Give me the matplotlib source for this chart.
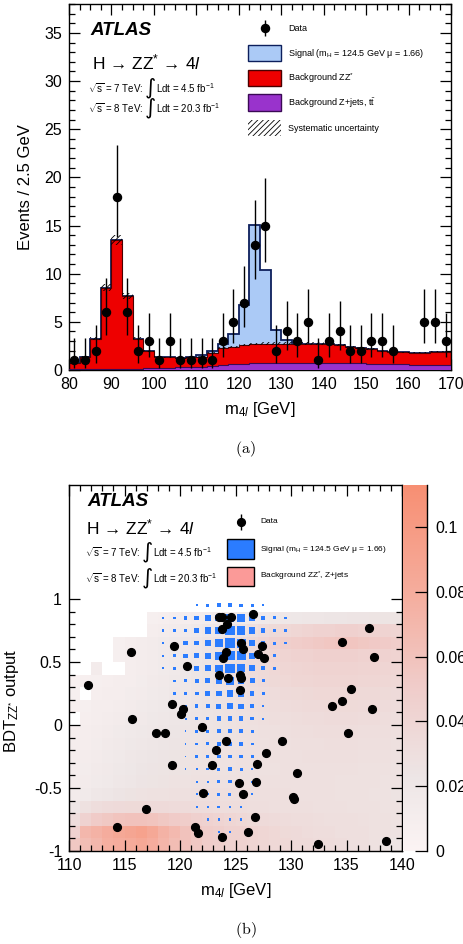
import numpy as np
import matplotlib
matplotlib.use("Agg")
import matplotlib.pyplot as plt
from matplotlib.patches import Rectangle
from matplotlib.colors import LinearSegmentedColormap
from matplotlib.ticker import MultipleLocator, FixedLocator

plt.rcParams['font.family'] = ['Liberation Sans', 'DejaVu Sans']
plt.rcParams['mathtext.fontset'] = 'custom'
plt.rcParams['mathtext.rm'] = 'Liberation Sans'
plt.rcParams['mathtext.it'] = 'Liberation Sans:italic'
plt.rcParams['mathtext.bf'] = 'Liberation Sans:bold'
plt.rcParams['axes.unicode_minus'] = False
plt.rcParams['hatch.linewidth'] = 0.6

# ---- (a) m4l spectrum, 2.5 GeV bins from 80 to 170 GeV ----
bin_lo, bin_hi, bin_w = 80.0, 170.0, 2.5

zz_bkg = [0.6, 1.3, 3.15, 8.4, 13.35, 7.5, 3.1, 1.75, 1.2, 1.05, 0.9, 1.0,
          1.0, 1.4, 1.75, 1.8, 1.95, 2.0, 2.0, 2.0, 2.0, 2.0, 2.0, 2.0,
          1.95, 1.85, 1.7, 1.55, 1.5, 1.35, 1.3, 1.23, 1.25, 1.25, 1.4, 1.4]
zjets_bkg = [0.1, 0.1, 0.1, 0.15, 0.15, 0.15, 0.15, 0.2, 0.2, 0.25, 0.3, 0.3,
             0.35, 0.4, 0.5, 0.6, 0.65, 0.7, 0.75, 0.75, 0.75, 0.75, 0.75, 0.75,
             0.75, 0.7, 0.7, 0.7, 0.65, 0.65, 0.6, 0.6, 0.55, 0.55, 0.5, 0.5]
higgs_sig = [0, 0, 0, 0, 0, 0, 0, 0, 0, 0, 0, 0,
             0.25, 0.2, 0.4, 1.3, 4.15, 12.4, 7.6, 1.45, 0.35, 0.1, 0, 0,
             0, 0, 0, 0, 0, 0, 0, 0, 0, 0, 0, 0]
data_counts = [1, 1, 2, 6, 18, 6, 2, 3, 1, 3, 1, 1,
               1, 1, 3, 5, 7, 13, 15, 2, 4, 3, 5, 1,
               3, 4, 2, 2, 3, 3, 2, 0, 0, 5, 5, 3]
syst_frac = 0.04

# ---- (b) BDT output vs m4l ----
# background density, 1 GeV x 0.1 cells, rows from BDT = -1 upwards
bkg_density = [
    [55, 65, 70, 78, 80, 82, 85, 80, 72, 65, 60, 55, 50, 48, 45, 45, 42, 40, 38, 38, 35, 35, 33, 33, 32, 30, 30, 28, 25, 25],
    [45, 70, 75, 80, 85, 88, 92, 85, 75, 68, 60, 55, 50, 48, 45, 45, 42, 40, 38, 36, 35, 33, 32, 32, 30, 30, 30, 28, 28, 27],
    [32, 45, 52, 55, 58, 60, 60, 58, 55, 52, 50, 46, 44, 42, 40, 38, 36, 35, 34, 33, 32, 32, 31, 30, 30, 30, 29, 28, 28, 27],
    [22, 28, 32, 34, 35, 36, 36, 35, 35, 34, 34, 33, 33, 32, 32, 32, 31, 31, 30, 30, 30, 30, 29, 29, 29, 28, 28, 28, 27, 27],
    [14, 16, 20, 22, 24, 26, 27, 28, 28, 29, 29, 30, 30, 30, 30, 30, 30, 30, 30, 30, 29, 29, 29, 29, 28, 28, 28, 27, 27, 26],
    [12, 14, 16, 18, 20, 22, 24, 25, 26, 27, 27, 28, 28, 28, 28, 28, 28, 29, 29, 29, 29, 29, 29, 29, 28, 28, 28, 28, 27, 27],
    [11, 13, 15, 17, 19, 21, 23, 24, 25, 26, 26, 27, 27, 27, 27, 28, 28, 28, 28, 29, 29, 29, 29, 29, 29, 29, 28, 28, 28, 27],
    [10, 12, 14, 16, 18, 20, 22, 23, 24, 25, 26, 26, 27, 27, 27, 28, 28, 28, 29, 29, 29, 30, 30, 30, 30, 30, 29, 29, 29, 28],
    [10, 11, 13, 15, 17, 19, 20, 22, 23, 24, 25, 25, 26, 26, 27, 27, 28, 28, 29, 29, 30, 30, 30, 31, 31, 31, 30, 30, 30, 29],
    [9, 10, 12, 14, 16, 18, 19, 20, 22, 23, 24, 25, 25, 26, 27, 28, 28, 29, 29, 30, 31, 31, 32, 32, 32, 32, 31, 31, 31, 30],
    [0, 9, 11, 12, 14, 16, 17, 19, 20, 22, 23, 24, 25, 26, 27, 28, 29, 30, 31, 31, 32, 33, 33, 34, 34, 34, 33, 33, 32, 31],
    [7, 8, 10, 11, 12, 14, 16, 18, 19, 21, 22, 23, 25, 26, 27, 29, 30, 31, 32, 33, 34, 35, 35, 36, 36, 36, 35, 35, 34, 33],
    [8, 0, 9, 10, 11, 13, 14, 16, 18, 20, 21, 23, 24, 26, 27, 29, 31, 32, 33, 35, 36, 37, 38, 38, 38, 38, 37, 37, 36, 35],
    [6, 7, 8, 9, 10, 11, 13, 15, 17, 19, 21, 23, 25, 27, 29, 31, 33, 35, 37, 38, 40, 40, 41, 41, 41, 41, 40, 40, 39, 38],
    [0, 0, 14, 0, 0, 10, 12, 14, 16, 18, 21, 23, 25, 27, 30, 32, 34, 36, 38, 40, 41, 42, 43, 43, 43, 43, 42, 42, 41, 40],
    [0, 0, 0, 0, 8, 10, 12, 14, 16, 18, 20, 22, 24, 26, 28, 31, 34, 37, 40, 42, 44, 45, 46, 46, 46, 46, 45, 45, 44, 43],
    [0, 0, 0, 0, 8, 10, 12, 14, 16, 18, 20, 22, 24, 27, 30, 33, 37, 41, 45, 48, 50, 52, 54, 56, 57, 57, 55, 53, 52, 50],
    [0, 0, 0, 0, 0, 0, 0, 10, 12, 14, 16, 18, 20, 22, 24, 27, 30, 33, 36, 38, 40, 42, 44, 45, 46, 46, 45, 44, 43, 42],
    [0, 0, 0, 0, 0, 0, 0, 8, 9, 10, 11, 12, 13, 14, 15, 16, 17, 18, 19, 20, 21, 22, 22, 23, 23, 24, 24, 25, 25, 25],
    [0] * 30,
]
density_scale = 1e-3

# signal yield per cell (arbitrary units), columns 118.5 ... 129.5 GeV
sig_mass = [118.5, 119.5, 120.5, 121.5, 122.5, 123.5, 124.5, 125.5, 126.5, 127.5, 128.5, 129.5]
sig_bdt = [0.95, 0.85, 0.75, 0.65, 0.55, 0.45, 0.35, 0.25, 0.15, 0.05,
           -0.05, -0.15, -0.25, -0.35, -0.45, -0.55, -0.65, -0.75, -0.85]
sig_yield = [
    [0, 0, 0, 6, 8, 12, 12, 10, 9, 6, 0, 0],
    [6, 8, 10, 13, 17, 20, 22, 22, 18, 13, 9, 7],
    [6, 8, 11, 14, 18, 22, 27, 25, 18, 13, 9, 7],
    [6, 9, 12, 14, 18, 24, 29, 26, 18, 13, 9, 7],
    [6, 9, 12, 14, 18, 24, 28, 26, 18, 12, 8, 0],
    [5, 8, 11, 14, 17, 22, 27, 23, 17, 11, 8, 0],
    [0, 7, 9, 12, 15, 19, 22, 20, 15, 9, 0, 0],
    [0, 7, 9, 11, 14, 17, 19, 18, 13, 8, 0, 0],
    [0, 6, 8, 10, 12, 15, 17, 15, 11, 7, 0, 0],
    [0, 0, 6, 8, 10, 13, 14, 13, 10, 6, 0, 0],
    [0, 0, 5, 7, 9, 11, 12, 11, 8, 0, 0, 0],
    [0, 0, 5, 7, 9, 10, 11, 10, 8, 0, 0, 0],
    [0, 0, 5, 7, 8, 10, 11, 10, 8, 0, 0, 0],
    [0, 0, 5, 6, 8, 9, 10, 9, 7, 0, 0, 0],
    [0, 0, 0, 6, 7, 9, 10, 9, 7, 0, 0, 0],
    [0, 0, 0, 6, 7, 8, 9, 8, 6, 0, 0, 0],
    [0, 0, 0, 5, 6, 8, 8, 7, 0, 0, 0, 0],
    [0, 0, 0, 0, 6, 7, 7, 7, 0, 0, 0, 0],
    [0, 0, 0, 0, 0, 6, 6, 0, 0, 0, 0, 0],
]

cand_mass = [126.6, 123.5, 123.8, 124.6, 124.2, 123.75, 137.05, 134.6, 119.5, 115.6,
             125.5, 125.7, 127.4, 127.05, 127.6, 124.1, 123.9, 137.5, 120.6, 123.5,
             124.35, 125.4, 125.5, 125.45, 111.7, 135.4, 134.6, 133.7, 137.3, 119.3,
             120.25, 120.1, 115.65, 121.95, 117.85, 118.65, 135.1, 124.15, 129.2, 123.25,
             127.75, 119.25, 122.85, 126.96, 130.57, 125.35, 126.85, 122.1, 125.7, 130.15,
             130.3, 116.95, 126.8, 114.3, 121.35, 121.6, 126.1, 123.75, 132.46, 138.56]
cand_bdt = [0.885, 0.855, 0.86, 0.86, 0.80, 0.76, 0.77, 0.66, 0.63, 0.58,
            0.65, 0.60, 0.63, 0.56, 0.53, 0.58, 0.53, 0.54, 0.47, 0.40,
            0.37, 0.40, 0.375, 0.28, 0.32, 0.285, 0.19, 0.15, 0.125, 0.17,
            0.13, 0.09, 0.045, -0.013, -0.066, -0.06, -0.06, -0.127, -0.125, -0.20,
            -0.225, -0.32, -0.32, -0.31, -0.38, -0.46, -0.45, -0.54, -0.55, -0.574,
            -0.59, -0.67, -0.73, -0.81, -0.81, -0.855, -0.85, -0.886, -0.947, -0.92]

RED = '#ee0000'
PURPLE = '#9933cc'
LIGHT_BLUE = '#abcaf6'
SIG_BLUE = '#2b7cff'
BKG_PINK = '#fb9a98'
DECAY = r'H → ZZ$^{*}$ → 4$l$'


def poisson_errors(n):
    """Approximate 68% Garwood interval (Wilson-Hilferty)."""
    n = np.asarray(n, dtype=float)
    lo = n * (1 - 1 / (9 * n) - 1 / (3 * np.sqrt(n))) ** 3
    up = (n + 1) * (1 - 1 / (9 * (n + 1)) + 1 / (3 * np.sqrt(n + 1))) ** 3
    return n - lo, up - n


def style_axes(ax, major_len=8, minor_len=4):
    ax.tick_params(which='both', direction='in', top=True, right=True,
                   labelsize=11.5, width=0.9)
    ax.tick_params(which='major', length=major_len, pad=5)
    ax.tick_params(which='minor', length=minor_len)
    for sp in ax.spines.values():
        sp.set_linewidth(1.0)


def lumi_line(ax, x, y, energy, lumi, size):
    t1 = ax.text(x, y, r'$\sqrt{\mathrm{s}}$ = %s TeV: ' % energy,
                 transform=ax.transAxes, fontsize=size, va='center', zorder=10)
    t2 = ax.annotate('∫', xy=(1, 0.5), xycoords=t1, fontsize=size * 2.2,
                     va='center', ha='left', family=['DejaVu Sans'], zorder=10)
    ax.annotate(r'Ldt = %s fb$^{-1}$' % lumi, xy=(1, 0.5), xycoords=(t2, t1),
                fontsize=size, va='center', ha='left', zorder=10)


fig = plt.figure(figsize=(4.63, 9.44), dpi=100)
W, H = 463.0, 944.0
ax1 = fig.add_axes([69 / W, 1 - 370 / H, 382 / W, 366 / H])
ax2 = fig.add_axes([69 / W, 1 - 851 / H, 333 / W, 366 / H])
cax = fig.add_axes([403 / W, 1 - 851 / H, 24 / W, 366 / H])

# ---------------- (a) ----------------
edges = np.arange(bin_lo, bin_hi + bin_w / 2, bin_w)
centers = edges[:-1] + bin_w / 2
zz = np.array(zz_bkg)
zj = np.array(zjets_bkg)
sig = np.array(higgs_sig)
bkg = zz + zj
total = bkg + sig

ax1.stairs(total, edges, fill=True, facecolor=LIGHT_BLUE, edgecolor='#0d1f5c',
           linewidth=1.3, zorder=1)
ax1.stairs(bkg, edges, fill=True, facecolor=RED, edgecolor='#4a0000',
           linewidth=0.8, zorder=2)
ax1.stairs(bkg * (1 + syst_frac), edges, baseline=bkg * (1 - syst_frac), fill=True,
           facecolor='none', edgecolor='black', hatch='//////', linewidth=0, zorder=3)
ax1.stairs(zj, edges, fill=True, facecolor=PURPLE, edgecolor='#3a0a55',
           linewidth=0.8, zorder=4)

counts = np.array(data_counts)
has = counts > 0
err_lo, err_hi = poisson_errors(counts[has])
ax1.errorbar(centers[has], counts[has], yerr=[err_lo, err_hi], fmt='o', color='black',
             ms=5.8, elinewidth=1.0, capsize=0, zorder=6)

ax1.set_xlim(bin_lo, bin_hi)
ax1.set_ylim(0, 38)
ax1.xaxis.set_major_locator(MultipleLocator(10))
ax1.xaxis.set_minor_locator(MultipleLocator(2.5))
ax1.yaxis.set_major_locator(MultipleLocator(5))
ax1.yaxis.set_minor_locator(MultipleLocator(1))
style_axes(ax1)
ax1.set_ylabel('Events / 2.5 GeV', fontsize=12, labelpad=8)
ax1.set_xlabel(r'm$_{4l}$ [GeV]', fontsize=12, labelpad=6)

ax1.text(0.055, 0.928, 'ATLAS', transform=ax1.transAxes, fontsize=13.5,
         fontweight='bold', fontstyle='italic', va='center')
ax1.text(0.06, 0.839, DECAY, transform=ax1.transAxes, fontsize=12.5, va='center')
lumi_line(ax1, 0.05, 0.770, '7', '4.5', 7.0)
lumi_line(ax1, 0.05, 0.716, '8', '20.3', 7.0)

# legend (a)
leg_x0, leg_w, leg_tx = 0.469, 0.086, 0.573
ax1.errorbar([0.513], [0.934], yerr=[[0.022], [0.022]], fmt='o', color='black', ms=5.8,
             elinewidth=1.0, capsize=0, transform=ax1.transAxes, clip_on=False, zorder=10)
ax1.text(leg_tx, 0.934, 'Data', transform=ax1.transAxes, fontsize=6.5, va='center')
legend_rows = [
    (0.866, LIGHT_BLUE, '#0d1f5c', None, r'Signal (m$_{\mathrm{H}}$ = 124.5 GeV μ = 1.66)'),
    (0.798, RED, '#4a0000', None, r'Background ZZ$^{*}$'),
    (0.730, PURPLE, '#3a0a55', None, r'Background Z+jets, t$\bar{\mathrm{t}}$'),
    (0.661, 'none', 'black', '//////', 'Systematic uncertainty'),
]
for yc, fc, ec, hatch, label in legend_rows:
    ax1.add_patch(Rectangle((leg_x0, yc - 0.023), leg_w, 0.046, transform=ax1.transAxes,
                            facecolor=fc, edgecolor=ec, hatch=hatch,
                            linewidth=0 if hatch else 1.0, zorder=10))
    ax1.text(leg_tx, yc, label, transform=ax1.transAxes, fontsize=6.5, va='center')

fig.text(0.53, 1 - 449 / H, r'$\mathrm{(a)}$', math_fontfamily='cm', fontsize=11.5,
         ha='center', va='center')

# ---------------- (b) ----------------
cmap = LinearSegmentedColormap.from_list(
    'bkg_pink', [(0.0, (0.985, 0.955, 0.955)), (0.2, (0.93, 0.90, 0.90)),
                 (0.45, (0.94, 0.80, 0.79)), (0.7, (0.96, 0.68, 0.62)),
                 (1.0, (0.97, 0.56, 0.45))])
dens = np.ma.masked_equal(np.array(bkg_density, dtype=float), 0) * density_scale
mx_edges = np.arange(110, 141, 1)
bdt_edges = np.linspace(-1, 1, 21)
mesh = ax2.pcolormesh(mx_edges, bdt_edges, dens, cmap=cmap, vmin=0, vmax=0.113,
                      shading='flat', zorder=1)

# signal shown as boxes whose side scales with the cell yield
box_gev, box_bdt = 0.031, 0.0027
for yi, yc in enumerate(sig_bdt):
    for xi, xc in enumerate(sig_mass):
        s = sig_yield[yi][xi]
        if s <= 0:
            continue
        w, h = s * box_gev, s * box_bdt
        ax2.add_patch(Rectangle((xc - w / 2, yc - h / 2), w, h, facecolor=SIG_BLUE,
                                edgecolor='none', zorder=3))

ax2.plot(cand_mass, cand_bdt, 'o', color='black', ms=5.6, zorder=5)

ax2.set_xlim(110, 140)
ax2.set_ylim(-1, 1.905)
ax2.xaxis.set_major_locator(MultipleLocator(5))
ax2.xaxis.set_minor_locator(MultipleLocator(1))
ax2.yaxis.set_major_locator(FixedLocator([-1, -0.5, 0, 0.5, 1]))
ax2.yaxis.set_minor_locator(FixedLocator(np.round(np.arange(-1, 1.01, 0.1), 2)))
ax2.set_yticklabels(['-1', '-0.5', '0', '0.5', '1'])
style_axes(ax2)
ax2.set_xlabel(r'm$_{4l}$ [GeV]', fontsize=12, labelpad=6)
ax2.set_ylabel(r'BDT$_{\mathrm{ZZ}^{*}}$ output', fontsize=12, labelpad=6)
ax2.yaxis.set_label_coords(-0.145, 0.41)

ax2.text(0.054, 0.954, 'ATLAS', transform=ax2.transAxes, fontsize=13.5,
         fontweight='bold', fontstyle='italic', va='center')
ax2.text(0.05, 0.883, DECAY, transform=ax2.transAxes, fontsize=12.5, va='center')
lumi_line(ax2, 0.048, 0.817, '7', '4.5', 7.0)
lumi_line(ax2, 0.048, 0.746, '8', '20.3', 7.0)

ax2.errorbar([0.517], [0.899], yerr=[[0.022], [0.022]], fmt='o', color='black', ms=5.6,
             elinewidth=1.0, capsize=0, transform=ax2.transAxes, clip_on=False, zorder=10)
ax2.text(0.574, 0.899, 'Data', transform=ax2.transAxes, fontsize=6, va='center')
for yc, fc, label in [(0.825, SIG_BLUE, r'Signal (m$_{\mathrm{H}}$ = 124.5 GeV μ = 1.66)'),
                      (0.750, BKG_PINK, r'Background ZZ$^{*}$, Z+jets')]:
    ax2.add_patch(Rectangle((0.474, yc - 0.027), 0.082, 0.054, transform=ax2.transAxes,
                            facecolor=fc, edgecolor='black', linewidth=1.0, zorder=10))
    ax2.text(0.574, yc, label, transform=ax2.transAxes, fontsize=6, va='center')

cbar = fig.colorbar(mesh, cax=cax, ticks=[0, 0.02, 0.04, 0.06, 0.08, 0.1])
cbar.ax.set_yticklabels(['0', '0.02', '0.04', '0.06', '0.08', '0.1'])
cbar.outline.set_visible(False)
cax.tick_params(direction='in', length=8.5, width=0.9, labelsize=11.5, pad=6)
cax.axvline(1, color='black', lw=1.0, clip_on=False)

fig.text(0.53, 1 - 930 / H, r'$\mathrm{(b)}$', math_fontfamily='cm', fontsize=11.5,
         ha='center', va='center')

fig.savefig('out.png', dpi=100)
